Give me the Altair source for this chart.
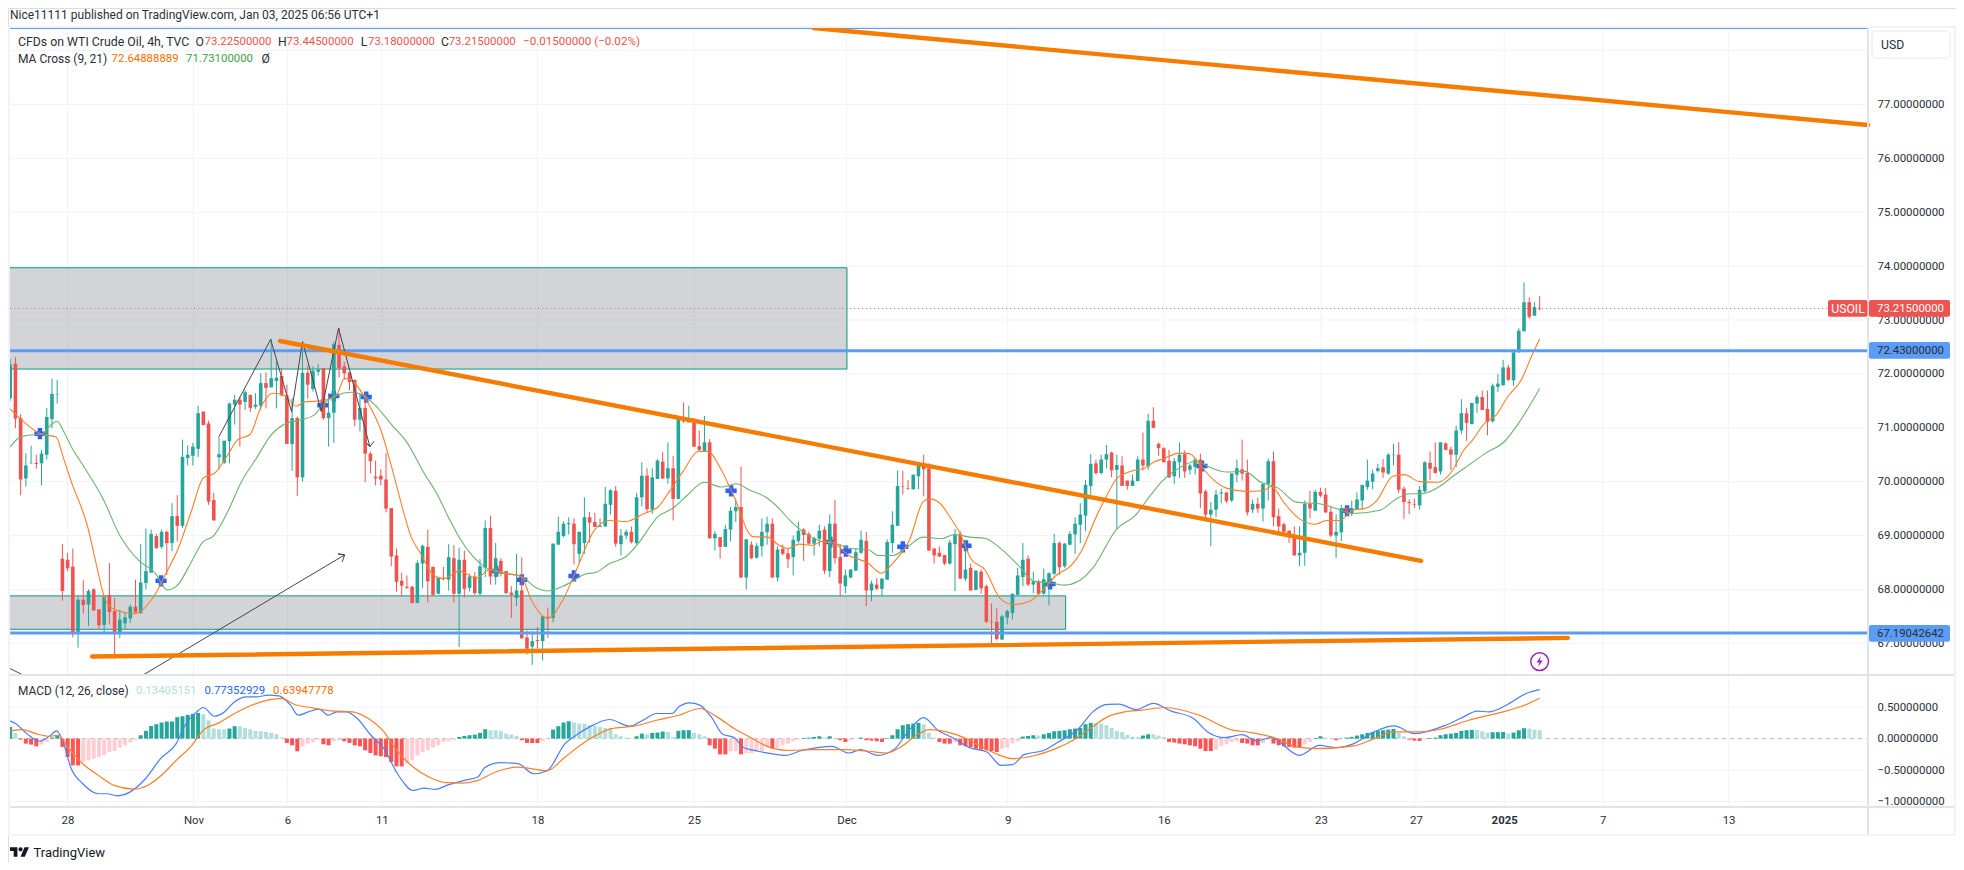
import altair as alt
import pandas as pd

# ---- candles (4h bars) ----
opens = [
71.55,72.19,71.18,70.06,70.34,70.35,70.34,70.50,71.16,71.62,
68.57,68.55,68.42,67.19,67.81,67.72,68.0,67.63,67.34,67.90,
67.60,67.19,67.37,67.46,67.68,67.56,68.12,68.31,68.99,68.79,
69.07,68.86,69.36,69.18,70.44,70.48,70.61,71.30,71.08,69.66,
70.45,70.35,70.75,71.43,71.52,71.48,71.61,71.39,71.41,71.83,
71.75,71.87,71.96,71.60,70.70,71.18,70.08,72.02,71.72,72.04,
72.11,71.18,71.28,72.54,72.14,72.03,71.89,71.15,71.37,70.52,
70.09,70.11,70.04,69.51,68.63,68.16,68.05,68.05,67.75,68.48,
68.79,68.42,67.92,68.21,68.18,68.58,67.92,68.55,68.03,68.24,
67.92,68.40,69.14,68.24,68.53,68.34,67.94,67.84,67.98,67.11,
66.94,67.06,67.04,67.49,67.47,68.83,68.99,69.21,69.22,68.66,
68.86,69.34,69.25,69.16,69.17,69.57,69.83,68.84,69.0,69.07,
68.86,69.71,70.11,69.48,70.05,70.37,70.06,70.25,69.68,71.18,
71.10,71.16,70.66,70.57,70.73,68.95,68.97,68.79,69.11,69.45,
69.53,68.22,68.83,68.59,68.80,69.06,69.22,68.22,68.75,68.67,
68.60,68.90,69.11,69.03,68.85,68.94,69.11,68.34,69.22,68.60,
68.06,68.22,68.35,68.68,68.90,67.98,68.09,68.01,68.18,68.86,
69.18,69.92,69.88,69.86,70.10,70.33,70.25,68.76,68.68,68.64,
68.48,68.84,69.03,68.20,68.40,67.99,68.33,68.06,67.40,67.40,
67.07,67.48,67.56,67.90,68.23,68.57,68.09,68.15,67.92,68.10,
68.29,68.86,68.43,68.83,69.02,69.20,69.37,69.92,70.34,70.16,
70.41,70.54,70.22,70.30,70.02,69.92,70.01,70.41,70.28,71.13,
70.70,70.62,70.39,70.10,70.36,70.51,70.22,70.27,70.41,69.82,
69.39,69.48,69.78,69.80,69.65,70.13,70.23,70.16,69.48,69.59,
69.50,69.96,70.38,69.36,69.21,69.09,69.01,68.63,68.68,69.59,
69.46,69.81,69.76,69.44,69.0,69.06,69.51,69.42,69.49,69.65,
69.90,70.0,70.20,70.27,70.15,70.49,70.50,69.87,69.62,69.58,
69.56,69.82,70.35,70.27,70.19,70.71,70.60,70.50,70.95,71.27,
71.07,71.45,71.57,71.35,71.12,71.76,71.79,72.12,71.88,72.40,
72.79,73.33,73.08,73.225]
highs = [
72.28,72.31,71.25,70.53,70.67,70.50,70.59,71.37,71.91,71.89,
68.84,68.68,68.76,67.87,68.17,68.0,68.02,67.63,67.90,68.49,
67.84,67.62,67.56,67.72,68.18,68.84,69.13,69.11,69.03,69.11,
69.09,69.60,69.75,70.78,70.67,70.72,71.41,71.30,71.13,69.79,
70.81,70.76,71.47,71.61,71.58,71.70,71.61,71.64,72.01,72.03,
72.65,72.23,72.11,71.80,71.55,71.21,72.50,72.16,72.14,72.18,
72.11,71.64,72.60,72.86,72.22,72.03,71.89,71.64,71.64,70.56,
70.39,70.23,70.53,69.51,68.76,68.31,68.26,68.07,68.54,68.83,
69.11,68.42,68.24,68.42,68.84,68.82,68.77,68.72,68.29,68.32,
68.56,69.28,69.37,68.86,68.58,68.34,68.06,68.66,68.59,67.24,
67.23,67.30,67.50,67.66,68.85,69.35,69.26,69.34,69.32,69.07,
69.71,69.44,69.42,69.32,69.90,69.86,69.92,69.12,69.11,69.17,
69.79,70.36,70.25,70.25,70.42,70.55,70.73,70.48,71.18,71.47,
71.41,71.18,70.95,71.22,70.79,69.08,68.97,69.20,69.53,69.67,
70.28,68.93,68.89,68.86,69.32,69.35,69.32,68.80,68.83,68.76,
69.0,69.26,69.14,69.07,68.98,69.20,69.17,69.39,69.66,68.84,
68.37,68.37,68.77,69.09,69.07,68.16,68.21,68.21,68.93,69.45,
70.21,70.2,70.03,70.13,70.34,70.5,70.34,68.76,68.8,68.64,
68.92,69.12,69.08,68.92,68.48,68.35,68.37,68.09,67.74,67.65,
67.53,67.62,67.92,68.4,68.86,68.63,68.33,68.18,68.39,68.32,
69.03,68.89,68.86,69.08,69.34,69.6,70.03,70.51,70.41,70.5,
70.68,70.56,70.5,70.47,70.02,70.13,70.47,70.91,71.26,71.38,
70.73,70.64,70.59,70.44,70.73,70.58,70.33,70.44,70.52,69.85,
69.62,69.85,69.87,69.8,70.16,70.41,70.78,70.41,69.67,69.7,
69.96,70.43,70.56,69.5,69.24,69.09,69.17,69.17,69.65,69.83,
69.85,69.89,69.88,69.54,69.39,69.57,69.54,69.65,69.8,69.94,
70.41,70.22,70.33,70.42,70.53,70.7,70.73,69.91,69.67,69.68,
69.92,70.38,70.56,70.73,70.73,70.73,70.65,71.04,71.53,71.37,
71.46,71.61,71.69,71.69,71.82,72.0,72.26,72.17,72.42,72.85,
73.7,73.42,73.33,73.445]
lows = [
71.5,70.99,69.75,69.91,70.34,70.24,69.93,70.41,70.99,71.45,
67.79,68.34,67.11,66.92,67.55,67.32,67.61,67.27,67.18,67.35,
66.71,67.09,67.27,67.38,67.55,67.55,68.0,68.31,68.75,68.76,
68.27,68.71,68.89,69.14,70.30,70.30,70.46,71.05,69.57,69.28,
70.23,70.33,70.34,71.06,70.65,71.33,71.29,71.35,71.33,71.36,
71.75,71.36,71.58,70.70,70.20,69.73,70.0,71.54,71.67,71.97,
71.15,70.65,70.72,71.93,71.89,71.70,71.03,70.93,69.99,70.15,
69.93,69.93,69.43,68.43,67.96,67.87,68.01,67.74,67.74,68.03,
67.76,67.88,67.91,68.17,67.98,67.76,66.93,67.85,67.96,67.90,
67.89,68.23,68.09,68.09,68.24,67.92,67.47,67.69,67.09,66.79,
66.60,66.91,66.68,67.10,67.39,68.83,68.97,69.02,68.46,68.49,
68.66,68.87,69.16,69.16,69.16,69.39,68.79,68.63,68.93,68.85,
68.83,69.54,69.43,69.40,70.05,70.05,69.96,69.28,69.68,71.09,
71.10,70.64,70.56,70.57,68.94,68.72,68.57,68.79,68.89,69.25,
68.22,68.0,68.56,68.57,68.61,68.83,68.22,68.15,68.63,68.40,
68.26,68.86,68.53,68.83,68.63,68.80,68.29,68.23,68.48,67.87,
67.93,68.21,68.34,68.66,67.69,67.78,67.99,67.88,68.18,68.68,
69.18,69.76,69.85,69.85,69.86,69.73,68.72,68.48,68.61,68.45,
68.46,67.97,68.2,68.16,67.98,67.99,67.92,67.37,66.98,67.05,
67.06,67.35,67.44,67.9,68.06,68.06,67.93,67.9,67.9,67.7,
68.27,68.27,68.4,68.82,68.66,68.86,69.08,69.76,70.13,70.13,
70.25,70.08,69.12,69.92,69.85,69.92,70.01,70.21,70.22,70.99,
70.48,70.36,70.07,69.96,70.07,70.07,70.13,70.13,69.51,69.34,
68.8,69.34,69.6,69.6,69.62,69.99,70.02,69.37,69.42,69.42,
69.26,69.65,69.17,69.02,69.05,68.86,68.63,68.43,68.44,69.32,
69.46,69.71,69.42,68.97,68.58,68.9,69.4,69.36,69.48,69.48,
69.85,69.86,70.17,70.07,70.13,70.3,69.79,69.31,69.4,69.51,
69.48,69.79,70.03,70.15,70.13,70.58,70.22,70.27,70.88,70.76,
71.06,71.28,71.33,70.86,71.1,71.66,71.78,71.87,71.78,72.4,
72.79,73.02,73.08,73.18]
closes = [
72.17,71.17,70.04,70.30,70.35,70.33,70.52,71.20,71.63,71.63,
67.97,68.39,67.17,67.81,67.71,67.97,67.61,67.33,67.87,67.58,
67.21,67.44,67.48,67.68,67.58,68.13,68.34,69.03,68.77,69.07,
68.86,69.36,69.18,70.46,70.50,70.65,71.27,71.05,69.63,69.28,
70.51,70.76,71.45,71.52,71.43,71.66,71.37,71.43,71.83,71.74,
71.92,71.93,71.60,70.70,71.18,70.08,72.02,71.80,72.06,72.08,
71.18,71.28,72.55,72.11,72.01,71.85,71.15,71.37,70.52,70.38,
70.06,70.04,69.50,68.61,68.14,68.07,68.03,67.75,68.49,68.81,
68.15,67.90,68.22,68.19,68.60,67.92,68.55,68.01,68.24,67.93,
68.43,69.14,68.24,68.58,68.29,67.93,67.90,67.98,67.09,66.90,
67.04,67.04,67.50,67.46,68.85,69.07,69.22,69.23,68.84,69.07,
69.34,69.24,69.16,69.18,69.59,69.84,68.85,69.0,69.07,68.88,
69.71,70.11,69.49,70.08,70.39,70.06,70.25,69.68,71.16,71.12,
71.14,70.65,70.59,70.73,68.95,69.03,68.79,69.12,69.46,69.53,
68.22,68.93,68.58,68.81,69.07,69.22,68.22,68.74,68.66,68.56,
68.92,69.09,69.01,68.85,68.95,69.09,68.35,69.22,68.58,68.11,
68.26,68.37,68.69,68.92,67.98,68.11,68.01,68.2,68.88,69.2,
69.92,69.91,69.87,70.13,70.31,70.23,68.72,68.63,68.61,68.48,
68.87,69.02,68.2,68.37,67.98,68.35,68.02,67.4,67.39,67.08,
67.5,67.6,67.92,68.26,68.55,68.09,68.15,67.92,68.19,68.3,
68.86,68.41,68.85,69.03,69.22,69.39,69.94,70.33,70.16,70.41,
70.51,70.21,70.31,69.92,69.92,70.02,70.41,70.3,71.13,71.0,
70.62,70.36,70.08,70.38,70.5,70.19,70.3,70.41,69.78,69.39,
69.48,69.76,69.8,69.64,70.15,70.25,70.15,69.43,69.59,69.5,
69.96,70.38,69.34,69.17,69.07,68.97,68.63,68.68,69.59,69.5,
69.81,69.74,69.43,69.0,69.07,69.51,69.44,69.51,69.67,69.94,
70.02,70.15,70.25,70.17,70.5,70.5,69.85,69.62,69.6,69.57,
69.85,70.36,70.24,70.16,70.73,70.59,70.5,70.95,71.27,71.09,
71.46,71.57,71.33,71.11,71.78,71.82,72.12,71.89,72.4,72.8,
73.33,73.06,73.24,73.215]

# ---- moving averages (bar position, value) ----
ma9_i = [0,2.5,6,8.8,10.1,11.7,14.9,16.5,18.1,19.7,23.8,25.1,27.7,29.9,32.1,34.7,37,39.2,41.7,43.6,45.9,48.1,50.3,52.6,54.8,56.4,59.6,62.5,64.1,65.7,68.2,71.1,73.3,74.9,76.8,78.8,81,82.9,86.1,89.3,91.9,95,97.9,99.8,103,105.9,108.5,112,114.8,118,121.2,124.1,126.3,128.9,131.8,133.7,136.2,138.5,142.3,145.2,147.1,149,151.2,153.8,155.4,157.6,160.5,164.3,166.9,169.1,172.3,174.9,176.1,178.1,179.7,181.9,184.1,186.7,189.6,192.1,195.3,198.2,200.1,203.3,205.2,208.1,210,212.2,215.4,217.3,219.2,220.8,224,225.9,228.2,230.1,233,236.8,240,241.6,244.1,247,250.1,252.1,254.7,257.2,259.8,261.7,264.9,267.1,270,273.5,276.4,278.3,280.2,282.5,284.7,286.9,289.5,291.4,293]
ma9_v = [71.35,71.12,70.88,70.83,70.47,70.0,69.14,68.46,67.84,67.64,67.55,67.6,67.9,68.31,68.74,69.45,70.07,70.16,70.5,70.78,70.87,71.4,71.64,71.6,71.4,71.48,71.5,71.61,71.92,71.86,71.52,70.93,70.19,69.6,68.98,68.64,68.27,68.2,68.34,68.21,68.37,68.3,68.24,67.81,67.47,67.81,68.37,69.11,69.28,69.26,69.4,69.53,69.82,70.19,70.56,70.56,70.22,69.76,68.98,68.97,68.83,68.76,68.84,68.82,68.89,68.87,68.64,68.49,68.3,68.49,68.92,69.63,69.68,69.6,69.39,69.05,68.56,68.37,67.84,67.72,67.78,68.03,68.24,68.45,68.71,69.36,69.73,70.08,70.21,70.25,70.37,70.42,70.53,70.52,70.28,70.07,69.88,69.82,69.83,69.91,69.6,69.31,69.21,69.28,69.28,69.47,69.51,69.64,70.1,70.13,70.0,69.99,70.22,70.56,70.78,71.09,71.24,71.58,71.89,72.32,72.65]
ma21_i = [0,1.5,3.4,6,7.9,9,10.1,11.7,14.3,17.8,21,24.5,27.7,30.1,32,34.1,36.9,38.9,41.7,44.3,47.2,50,52.6,55.8,58.3,59.9,62.5,65.4,67.3,69.8,73.3,76,79.1,82,83.9,86.1,88.7,91.2,94.4,97.9,100.8,103,105.9,110.4,112.3,114.8,118,120.3,124.1,127,129.5,133,136.2,139.1,141.7,144.8,147.1,149.6,152.2,155.4,157.9,161.1,164.3,166.3,169.1,172,174.9,178.4,180.9,183.8,186.7,189.6,193,196.2,199.4,202,204.6,207.4,211.9,215.7,218.3,220.8,223.4,227.2,229.5,233,236.5,239.4,242.9,246.4,250.8,254.7,257.2,262.4,265.5,267.8,270.7,273.8,276.4,279.6,282.5,286.3,289.2,293]
ma21_v = [70.64,70.8,70.86,70.88,71.06,71.12,70.96,70.65,70.25,69.68,69.0,68.55,68.31,67.99,68.07,68.4,68.88,68.99,69.45,70.0,70.44,70.87,71.07,71.15,71.24,71.43,71.6,71.66,71.62,71.43,71.03,70.73,70.19,69.73,69.35,68.95,68.61,68.4,68.3,68.24,68.03,67.97,68.06,68.29,68.32,68.48,68.61,68.85,69.35,69.51,69.73,69.99,69.9,69.96,69.84,69.71,69.52,69.26,69.05,68.89,68.86,68.76,68.74,68.63,68.63,68.8,68.97,68.94,69.02,68.97,68.95,68.77,68.46,68.15,68.12,68.08,68.15,68.4,69.11,69.39,69.73,70.02,70.22,70.38,70.28,70.18,70.19,70.0,69.88,69.62,69.59,69.48,69.41,69.47,69.68,69.77,69.78,69.91,70.1,70.32,70.52,70.75,71.12,71.73]

# ---- MACD ----
hist = [.185,.09,-.016,-.079,-.095,-.122,-.095,-.053,.016,.053,-.132,-.291,-.423,-.424,-.370,-.344,-.317,-.291,-.265,-.212,
-.196,-.143,-.106,-.063,-.026,.053,.122,.201,.228,.254,.270,.271,.339,.354,.376,.392,.407,.386,.291,.159,
.148,.147,.159,.196,.195,.169,.148,.122,.116,.106,.090,.069,.016,-.069,-.106,-.201,-.122,-.079,-.053,-.016,
-.090,-.106,-.042,-.026,-.042,-.069,-.106,-.122,-.185,-.228,-.265,-.280,-.291,-.370,-.439,-.440,-.397,-.344,-.265,-.212,
-.185,-.143,-.106,-.053,-.042,-.026,.026,.042,.053,.063,.090,.148,.132,.131,.122,.079,.063,.042,-.026,-.069,
-.070,-.071,-.042,-.005,.143,.196,.254,.275,.254,.238,.237,.212,.201,.185,.169,.168,.069,.037,.016,.005,
.037,.079,.069,.090,.095,.111,.106,.026,.122,.132,.133,.090,.069,.037,-.106,-.159,-.249,-.250,-.201,-.196,
-.249,-.228,-.227,-.212,-.196,-.143,-.159,-.148,-.106,-.079,-.042,-.016,.011,.016,.026,.037,.016,.037,.011,-.026,
-.053,-.026,-.002,.016,-.026,-.032,-.042,-.053,.011,.053,.148,.212,.228,.238,.249,.228,.090,.016,-.053,-.079,
-.080,-.053,-.106,-.122,-.132,-.159,-.175,-.185,-.196,-.212,-.159,-.143,-.079,-.042,.032,.042,.053,.048,.069,.090,
.116,.122,.132,.148,.159,.169,.228,.249,.248,.238,.212,.169,.122,.106,.058,.032,.026,.048,.069,.068,
.048,.026,-.053,-.063,-.079,-.090,-.106,-.122,-.159,-.196,-.197,-.175,-.122,-.090,-.053,-.042,-.069,-.079,-.106,-.107,
-.069,-.016,-.079,-.106,-.122,-.132,-.143,-.144,-.090,-.053,.011,.037,.016,.005,-.026,.002,.016,.026,.048,.069,
.090,.106,.122,.132,.143,.153,.090,.037,-.016,-.032,-.037,-.016,.011,.016,.053,.069,.079,.090,.122,.132,
.138,.137,.116,.095,.101,.102,.105,.08,.095,.132,.164,.159,.143,.134]
macd_i = [0,1,3.2,5.6,7.5,8.9,10,11.7,13.9,16.9,18.6,20.5,22.9,25.9,28.8,31.8,33.5,35.7,37,39.1,40.8,43,45.1,47.2,49.4,51.5,53.7,55.2,57.1,59.2,60.9,62.6,64.4,66.5,69.1,71.6,74.2,77.2,79.3,81.5,83.6,87,89.6,90.9,93.9,97.3,100.3,102.8,106.3,108.4,111,114.8,118.7,121.2,123.8,126.8,128.1,130.2,132.1,134.3,136.5,138.7,140.3,143.1,145.8,148.6,151.3,154.6,157.4,160.7,162.9,166.2,169.5,172.2,175,177.7,180.5,183.8,187.1,189.8,192,194.2,198.1,200.8,204.7,207.4,210.2,212.4,215.7,219,222.3,226.7,229.4,232.7,236,238.8,241.5,247,250.8,254.1,257.4,261.3,265.1,269,275,277.8,281.1,283.3,286.6,290.4,293]
macd_v = [.28,.238,.079,-.042,.037,.122,-.026,-.476,-.714,-.873,-.873,-.905,-.847,-.635,-.317,-.079,.212,.423,.492,.354,.407,.582,.661,.661,.688,.677,.529,.37,.423,.466,.37,.423,.423,.317,.053,-.159,-.556,-.82,-.783,-.804,-.741,-.661,-.608,-.46,-.381,-.397,-.556,-.513,-.079,.053,.185,.302,.196,.291,.397,.397,.503,.566,.529,.344,.069,.016,-.132,-.196,-.238,-.265,-.196,-.143,-.122,-.228,-.175,-.265,-.159,.132,.333,.132,.016,-.143,-.212,-.423,-.413,-.254,-.185,-.053,.159,.423,.54,.545,.46,.556,.439,.317,.106,.016,.063,-.037,.016,-.265,-.106,-.143,-.079,.106,.201,.079,.212,.317,.434,.423,.529,.714,.774]
signal_i = [0,2.3,5.3,7.5,9.2,10.9,13.9,16.9,19.9,23.7,26.3,29.3,31.8,34.8,37,40,43,46,49.4,51.9,54.5,57.9,61.4,65.6,68.6,71.6,73.8,77.2,80.2,83.6,86.6,89.6,93,97.3,102.8,106.3,110.1,115.2,119.5,123.8,128.1,132.1,135.4,138.7,141.4,145.3,148.6,154.1,159.6,164,167.8,170.6,173.9,176.1,179.4,182.7,186,189.3,192,195.9,200.3,203.6,206.9,210.2,213.5,216.8,221.2,227.8,233.8,237.7,242.1,246.5,250.3,257.4,261.3,265.1,269.5,273.9,279.4,286,289.3,293]
signal_v = [.122,.143,.069,.037,.053,-.122,-.397,-.582,-.741,-.799,-.741,-.556,-.344,-.106,.132,.249,.397,.519,.608,.635,.54,.487,.439,.423,.317,.106,-.159,-.45,-.608,-.698,-.704,-.661,-.529,-.45,-.508,-.291,-.053,.159,.196,.291,.37,.476,.344,.159,.037,-.132,-.185,-.175,-.175,-.196,-.228,-.132,.069,.143,.106,.016,-.122,-.254,-.317,-.275,-.159,-.026,.159,.344,.423,.45,.492,.37,.143,.095,.016,-.132,-.159,-.116,0,.106,.106,.148,.291,.423,.503,.639]

# ---- drawings ----
cross_i = [5.7,28.9,59.9,62.0,68.2,93.1,98.0,108.0,138.1,157.1,160.1,171.0,183.1,199.2,228.3,256.1]
cross_p = [70.89,68.16,71.42,71.59,71.57,68.34,68.18,68.25,69.83,68.88,68.71,68.79,68.81,68.10,70.29,69.46]
trend_i = [(153.9,355.9),(51.7,270.3),(15.7,298.4)]
trend_p = [(78.42,76.62),(72.61,68.53),(66.755,67.10)]
level_p = [78.42,72.43,67.19042642]
boxes_i2 = [160.3,202.2]
boxes_top = [73.97,67.88]
boxes_bot = [72.09,67.26]
zig_i = [39.9,49.9,53.9,56.0,59.6,62.9,68.9,68.35,68.9,69.7]
zig_p = [70.82,72.64,71.30,72.60,71.30,72.85,70.65,70.71,70.65,70.75]
arrow_i = [25.6,64.06,62.8,64.06,63.6]
arrow_p = [66.42,68.64,68.66,68.64,68.51]
stub_i = [0,2.3]
stub_p = [66.53,66.42]

# ---- axes ----
price_ticks = [67,68,69,70,71,72,73,74,75,76,77]
price_grid = price_ticks + [78]
macd_ticks = [-1,-0.5,0,0.5]
time_i = [10.96,35.1,53.1,71.2,101.0,131.0,160.2,191.1,221.0,251.1,269.3,286.2,305.1,329.2]
time_labels = ['28','Nov','6','11','18','25','Dec','9','16','23','27','2025','7','13']

# ---- text ----
header = 'Nice11111 published on TradingView.com, Jan 03, 2025 06:56 UTC+1'
INK, RED, BLUE, GRID, LINE = '#2a2e39', '#ef5350', '#5b9cf6', '#f0f3fa', '#e0e3eb'
TEAL, ORANGE = '#26a69a', '#f57c00'
FONT, FS, WS = 'Roboto', 11.4, 12.2

assert len(opens) == len(highs) == len(lows) == len(closes) == len(hist) == 294, (len(opens), len(highs), len(lows), len(closes), len(hist))

I_MAX = 355.9
XS = alt.Scale(domain=[0, I_MAX], range=[2.2, 1860], nice=False, zero=False)
PS = alt.Scale(domain=[67, 77], range=[635.3, 96.5], nice=False, zero=False)
MS = alt.Scale(domain=[-1, 0.5], range=[793.8, 699], nice=False, zero=False)
X = alt.X('i:Q', scale=XS, axis=None)
X2 = alt.X2('i2:Q')
def PY(f='p'): return alt.Y(f + ':Q', scale=PS, axis=None)
def MY(f='v'): return alt.Y(f + ':Q', scale=MS, axis=None)
ONE = alt.Data(values=[{'a': 1}])

candles = pd.DataFrame({'i': range(294), 'o': opens, 'h': highs, 'l': lows, 'c': closes})
candles['col'] = [TEAL if c >= o else RED for o, c in zip(opens, closes)]
COL = alt.Color('col:N', scale=None)

hcol = []
for k, v in enumerate(hist):
    prev = hist[k - 1] if k else 0
    if v >= 0:
        hcol.append('#26a69a' if prev < v else '#b2dfdb')
    else:
        hcol.append('#ffcdd2' if prev < v else '#ff5252')
hdf = pd.DataFrame({'i': range(294), 'v': hist, 'z': [0] * 294, 'col': hcol})

layers = []

def label(txt, px, py, color=INK, size=FS, weight=400, align='left'):
    return alt.Chart(ONE).mark_text(align=align, baseline='middle', font=FONT, fontSize=size,
                                    color=color, fontWeight=weight).encode(
        x=alt.value(px - 8), y=alt.value(py - 8), text=alt.value(txt))

def block(x0, x1, y0, y1, **kw):
    return alt.Chart(ONE).mark_rect(**kw).encode(
        x=alt.value(x0 - 8), x2=alt.value(x1 - 8), y=alt.value(y0 - 8), y2=alt.value(y1 - 8))

def hline(x0, x1, y, color=LINE, w=2):
    return alt.Chart(ONE).mark_rule(color=color, strokeWidth=w).encode(
        x=alt.value(x0 - 8), x2=alt.value(x1 - 8), y=alt.value(y - 8))

def vline(x, y0, y1, color=LINE, w=2):
    return alt.Chart(ONE).mark_rule(color=color, strokeWidth=w).encode(
        x=alt.value(x - 8), y=alt.value(y0 - 8), y2=alt.value(y1 - 8))

# vertical time grid with the time axis
time_expr = "[" + ",".join(f"'{t}'" for t in time_labels) + "][indexof([" + ",".join(str(t) for t in time_i) + "],datum.value)]"
tdf = pd.DataFrame({'i': time_i})
layers.append(alt.Chart(tdf).mark_rule(color=GRID, strokeWidth=1).encode(
    x=alt.X('i:Q', scale=XS, axis=alt.Axis(
        orient='bottom', offset=-55, values=time_i, labelExpr=time_expr, title=None, domain=False, ticks=False,
        grid=False, labelFont=FONT, labelFontSize=FS, labelColor=INK, labelBaseline='middle', labelPadding=13.5,
        labelOverlap=False, labelFlush=False, labelAngle=0,
        labelFontWeight={'condition': {'test': "datum.value==286.2", 'value': 'bold'}, 'value': 'normal'})),
    y=alt.value(20), y2=alt.value(799)))

# horizontal grids with the price axes
pg = pd.DataFrame({'p': price_grid, 'i': [0] * len(price_grid), 'i2': [I_MAX] * len(price_grid)})
layers.append(alt.Chart(pg).mark_rule(color=GRID, strokeWidth=1).encode(
    x=X, x2=X2,
    y=alt.Y('p:Q', scale=PS, axis=alt.Axis(
        orient='right', offset=-88, values=price_ticks, format='.8f', title=None, domain=False, ticks=False,
        grid=False, labelFont=FONT, labelFontSize=FS, labelColor=INK, labelPadding=9, labelOverlap=False,
        labelFlush=False, labelBound=False))))
mg = pd.DataFrame({'v': [-1, -0.5, 0.5], 'i': [0] * 3, 'i2': [I_MAX] * 3})
layers.append(alt.Chart(mg).mark_rule(color=GRID, strokeWidth=1).encode(
    x=X, x2=X2,
    y=alt.Y('v:Q', scale=MS, axis=alt.Axis(
        orient='right', offset=-88, values=macd_ticks, title=None, domain=False, ticks=False, grid=False,
        labelExpr="replace(format(datum.value,'.8f'),'-','\u2212')",
        labelFont=FONT, labelFontSize=FS, labelColor=INK, labelPadding=9, labelOverlap=False,
        labelFlush=False, labelBound=False))))

# zones
bx = pd.DataFrame({'i': [-0.4, -0.4], 'i2': boxes_i2, 'p': boxes_top, 'p2': boxes_bot})
layers.append(alt.Chart(bx).mark_rect(fill='#787b86', fillOpacity=0.33, stroke='#089981', strokeWidth=1).encode(
    x=X, x2=X2, y=PY(), y2=alt.Y2('p2:Q')))

# MA-cross markers
layers.append(alt.Chart(pd.DataFrame({'i': cross_i, 'p': cross_p})).mark_point(
    shape='cross', filled=True, size=125, color='#2962ff', opacity=1).encode(x=X, y=PY()))

# candles
layers.append(alt.Chart(candles).mark_rule(strokeWidth=1).encode(x=X, y=PY('l'), y2=alt.Y2('h:Q'), color=COL))
layers.append(alt.Chart(candles).mark_rule(strokeWidth=3.6).encode(x=X, y=PY('o'), y2=alt.Y2('c:Q'), color=COL))

# moving averages
layers.append(alt.Chart(pd.DataFrame({'i': ma21_i, 'p': ma21_v})).mark_line(
    color='#6db36d', strokeWidth=1.1, interpolate='monotone').encode(x=X, y=PY()))
layers.append(alt.Chart(pd.DataFrame({'i': ma9_i, 'p': ma9_v})).mark_line(
    color='#ff7f27', strokeWidth=1.1, interpolate='monotone').encode(x=X, y=PY()))

# MACD
zero = pd.DataFrame({'i': [0], 'i2': [I_MAX], 'v': [0]})
layers.append(alt.Chart(zero).mark_rule(color='#b2b5be', strokeWidth=1, strokeDash=[4, 4]).encode(x=X, x2=X2, y=MY()))
layers.append(alt.Chart(hdf).mark_rule(strokeWidth=4).encode(x=X, y=MY('z'), y2=alt.Y2('v:Q'), color=COL))
layers.append(alt.Chart(pd.DataFrame({'i': macd_i, 'v': macd_v})).mark_line(
    color='#4a7dff', strokeWidth=1.2, interpolate='monotone').encode(x=X, y=MY()))
layers.append(alt.Chart(pd.DataFrame({'i': signal_i, 'v': signal_v})).mark_line(
    color='#ff7f27', strokeWidth=1.2, interpolate='monotone').encode(x=X, y=MY()))

# last price
last = pd.DataFrame({'i': [0], 'i2': [I_MAX], 'p': [closes[-1]]})
layers.append(alt.Chart(last).mark_rule(color=RED, strokeWidth=1, strokeDash=[1, 3]).encode(x=X, x2=X2, y=PY()))

# levels
lv = pd.DataFrame({'p': level_p, 'i': [0] * 3, 'i2': [I_MAX] * 3, 'w': [2, 3, 3]})
layers.append(alt.Chart(lv).mark_rule(color=BLUE).encode(
    x=X, x2=X2, y=PY(), strokeWidth=alt.StrokeWidth('w:Q', scale=None)))

# thin drawings
for ii, pp in [(zig_i, zig_p), (arrow_i, arrow_p), (stub_i, stub_p)]:
    layers.append(alt.Chart(pd.DataFrame({'i': ii, 'p': pp, 'n': range(len(ii))})).mark_line(
        color='#434651', strokeWidth=1).encode(x=X, y=PY(), order='n:Q'))

# trend lines
for ii, pp in zip(trend_i, trend_p):
    layers.append(alt.Chart(pd.DataFrame({'i': ii, 'p': pp})).mark_line(
        color=ORANGE, strokeWidth=4.4, strokeCap='round').encode(x=X, y=PY()))

# frame
layers.append(hline(10, 1954, 675))
layers.append(hline(10, 1954, 807))
layers.append(vline(1868, 28, 835))
layers.append(block(9, 1955, 27, 835, fillOpacity=0, stroke=GRID, strokeWidth=2))

# purple event badge
ev = pd.DataFrame({'i': [293], 'p': [66.66]})
layers.append(alt.Chart(ev).mark_point(shape='circle', size=314, fill='#ffffff', fillOpacity=1,
                                       stroke='#9c27b0', strokeWidth=1.5, opacity=1).encode(x=X, y=PY()))
layers.append(alt.Chart(ev).mark_point(shape='M 0.2 -1 L -0.6 0.15 L -0.05 0.15 L -0.3 1 L 0.6 -0.2 L 0.05 -0.2 Z',
                                       size=110, filled=True, color='#9c27b0', opacity=1).encode(x=X, y=PY()))

# price tags
layers.append(block(1828, 1867.5, 300, 316.7, fill=RED, cornerRadius=2))
layers.append(block(1869, 1950, 300, 316.7, fill=RED, cornerRadius=2))
layers.append(block(1869, 1950, 342, 358.7, fill=BLUE, cornerRadius=2))
layers.append(block(1869, 1950, 625, 641.7, fill=BLUE, cornerRadius=2))
layers.append(label('USOIL', 1848, 308.5, '#ffffff', size=WS, align='center'))
layers.append(label('73.21500000', 1877, 308.5, '#ffffff'))
layers.append(label('72.43000000', 1877, 350.5))
layers.append(label('67.19042642', 1877, 633.5))

# currency button
layers.append(block(1872, 1950, 31, 58, fill='#ffffff', stroke=GRID, strokeWidth=2, cornerRadius=4))
layers.append(label('USD', 1881, 44.5, size=WS))

# captions
layers.append(label(header, 10, 14.7, size=12))
for txt, px, col, sz in [('CFDs on WTI Crude Oil, 4h, TVC', 18, INK, 12.3), ('O', 195.5, INK, WS), ('73.22500000', 204.5, RED, FS),
                     ('H', 278, INK, WS), ('73.44500000', 286.6, RED, FS), ('L', 360.7, INK, WS), ('73.18000000', 368, RED, FS),
                     ('C', 441, INK, WS), ('73.21500000', 448.7, RED, FS), ('\u22120.01500000 (\u22120.02%)', 523, RED, 11.6)]:
    layers.append(label(txt, px, 41.7, col, size=sz))
for txt, px, col, sz in [('MA Cross (9, 21)', 18, INK, 12), ('72.64888889', 111.6, '#ff6d00', FS),
                     ('71.73100000', 186, '#43a047', FS), ('\u00d8', 261.6, INK, WS)]:
    layers.append(label(txt, px, 59, col, size=sz))
for txt, px, col, sz in [('MACD (12, 26, close)', 18, INK, 11.9), ('0.13405151', 136, '#b2dfdb', FS),
                     ('0.77352929', 204.5, '#2962ff', FS), ('0.63947778', 273, '#ff6d00', FS)]:
    layers.append(label(txt, px, 690.7, col, size=sz))

# footer
logo = ('M -0.222 0.5 H -0.611 V -0.111 H -1 V -0.5 H -0.222 Z '
        'M 0.556 0.5 L 0.111 0.5 L 0.528 -0.5 L 1 -0.5 Z '
        'M -0.111 -0.278 A 0.222 0.222 0 1 0 0.333 -0.278 A 0.222 0.222 0 1 0 -0.111 -0.278 Z')
layers.append(alt.Chart(ONE).mark_point(shape=logo, size=361, filled=True, color='#131722', opacity=1).encode(
    x=alt.value(11.5), y=alt.value(844)))
layers.append(label('TradingView', 33.5, 852.7, '#131722', size=13))

chart = alt.layer(*layers).resolve_scale(x='independent', y='independent').properties(
    width=1948, height=854, padding=0, autosize=alt.AutoSizeParams(type='none')
).configure_view(stroke=None).configure(background='#ffffff')

chart.save('out.html', embed_options={'renderer': 'svg', 'actions': False})
